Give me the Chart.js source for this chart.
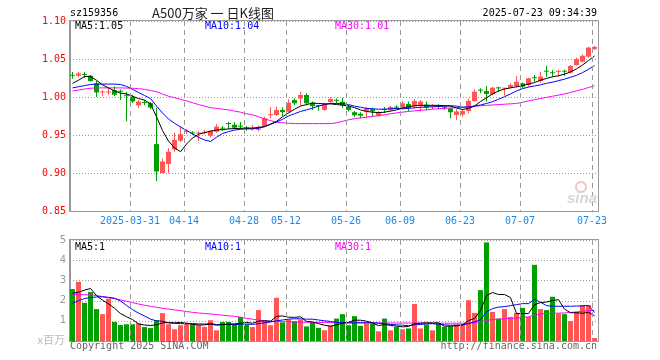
<!DOCTYPE html>
<html>
<head>
<meta charset="utf-8">
<script src="https://cdn.jsdelivr.net/npm/chart.js@4.4.1/dist/chart.umd.min.js"></script>
<style>
  html, body { margin: 0; padding: 0; background: #fff; }
  #wrap { position: relative; width: 660px; height: 360px; }
  #price { position: absolute; left: 0; top: 0; }
  #vol { position: absolute; left: 0; top: 230px; }
</style>
</head>
<body>
<div id="wrap">
  <canvas id="price" width="660" height="230"></canvas>
  <canvas id="vol" width="660" height="130"></canvas>
</div>
<script>
// trading days (2025)
const days = [
  '03-17', '03-18', '03-19', '03-20', '03-21', '03-24', '03-25', '03-26', '03-27', '03-28', '03-31',
  '04-01', '04-02', '04-03', '04-07', '04-08', '04-09', '04-10', '04-11', '04-14', '04-15', '04-16',
  '04-17', '04-18', '04-21', '04-22', '04-23', '04-24', '04-25', '04-28', '04-29', '04-30',
  '05-06', '05-07', '05-08', '05-09', '05-12', '05-13', '05-14', '05-15', '05-16', '05-19', '05-20',
  '05-21', '05-22', '05-23', '05-26', '05-27', '05-28', '05-29', '05-30',
  '06-03', '06-04', '06-05', '06-06', '06-09', '06-10', '06-11', '06-12', '06-13', '06-16', '06-17',
  '06-18', '06-19', '06-20', '06-23', '06-24', '06-25', '06-26', '06-27', '06-30',
  '07-01', '07-02', '07-03', '07-04', '07-07', '07-08', '07-09', '07-10', '07-11', '07-14', '07-15',
  '07-16', '07-17', '07-18', '07-21', '07-22', '07-23',
];
const tickDays = ['03-31', '04-14', '04-28', '05-12', '05-26', '06-09', '06-23', '07-07', '07-23'];
const tickLabels = ['2025-03-31', '04-14', '04-28', '05-12', '05-26', '06-09', '06-23', '07-07', '07-23'];

const open = [
  1.029, 1.028, 1.030, 1.028, 1.018, 1.006, 1.006, 1.009, 1.008, 1.002,
  1.000, 0.989, 0.993, 0.992, 0.938, 0.900, 0.912, 0.931, 0.9425, 0.954,
  0.953, 0.952, 0.953, 0.949, 0.9543, 0.959, 0.965, 0.9636, 0.9615, 0.9592,
  0.9585, 0.957, 0.962, 0.976, 0.9763, 0.983, 0.9806, 0.996, 0.998, 1.0026,
  0.9925, 0.9885, 0.983, 0.9934, 0.9955, 0.9938, 0.987, 0.980, 0.978, 0.981,
  0.984, 0.9754, 0.9835, 0.983, 0.9865, 0.986, 0.9908, 0.988, 0.988, 0.990,
  0.9875, 0.9875, 0.9865, 0.985, 0.9763, 0.977, 0.9816, 0.9947, 1.0088, 1.0079,
  1.0035, 1.0118, 1.011, 1.0122, 1.0145, 1.018, 1.0158, 1.025, 1.021, 1.0338,
  1.0317, 1.033, 1.0338, 1.032, 1.042, 1.0465, 1.053, 1.063,
];
const high = [
  1.033, 1.033, 1.033, 1.029, 1.021, 1.009, 1.012, 1.014, 1.010, 1.007,
  1.003, 0.996, 0.996, 0.993, 0.986, 0.919, 0.9325, 0.953, 0.962, 0.958,
  0.955, 0.955, 0.957, 0.9557, 0.964, 0.962, 0.9675, 0.967, 0.967, 0.962,
  0.963, 0.9625, 0.974, 0.9864, 0.9872, 0.9864, 0.997, 0.998, 1.007, 1.005,
  0.994, 0.989, 0.9925, 0.9996, 0.998, 0.999, 0.9895, 0.9816, 0.980, 0.987,
  0.986, 0.9816, 0.987, 0.9886, 0.989, 0.9947, 0.994, 0.9974, 0.996, 0.994,
  0.9908, 0.9905, 0.989, 0.986, 0.984, 0.984, 0.998, 1.010, 1.0114, 1.0145,
  1.0135, 1.0135, 1.012, 1.018, 1.0276, 1.019, 1.0254, 1.029, 1.0333, 1.041,
  1.0355, 1.036, 1.036, 1.042, 1.0517, 1.056, 1.066, 1.0675,
];
const low = [
  1.024, 1.026, 1.025, 1.020, 1.000, 1.001, 1.003, 1.001, 0.996, 0.968,
  0.992, 0.986, 0.989, 0.984, 0.889, 0.8996, 0.8996, 0.928, 0.9408, 0.951,
  0.950, 0.942, 0.951, 0.947, 0.953, 0.9557, 0.958, 0.9575, 0.9575, 0.9557,
  0.956, 0.955, 0.961, 0.972, 0.975, 0.975, 0.980, 0.989, 0.989, 0.989,
  0.983, 0.982, 0.982, 0.9917, 0.9917, 0.986, 0.981, 0.974, 0.972, 0.972,
  0.974, 0.974, 0.9786, 0.981, 0.984, 0.9842, 0.981, 0.985, 0.981, 0.983,
  0.9842, 0.984, 0.983, 0.972, 0.9697, 0.974, 0.979, 0.9938, 1.005, 0.9938,
  1.0026, 1.007, 1.0017, 1.0114, 1.0122, 1.0114, 1.0135, 1.020, 1.019, 1.0267,
  1.0267, 1.0267, 1.028, 1.031, 1.041, 1.0457, 1.0517, 1.062,
];
const close = [
  1.028, 1.031, 1.029, 1.021, 1.006, 1.007, 1.007, 1.003, 1.007, 1.001,
  0.994, 0.994, 0.992, 0.986, 0.902, 0.915, 0.928, 0.9434, 0.951, 0.9555,
  0.952, 0.953, 0.954, 0.9557, 0.961, 0.9583, 0.9645, 0.9596, 0.961, 0.9588,
  0.959, 0.9575, 0.972, 0.9765, 0.9829, 0.980, 0.9925, 0.9917, 1.0026, 0.9917,
  0.988, 0.988, 0.9908, 0.9974, 0.995, 0.9886, 0.983, 0.976, 0.9754, 0.985,
  0.981, 0.980, 0.983, 0.987, 0.986, 0.9917, 0.986, 0.9947, 0.994, 0.986,
  0.988, 0.987, 0.986, 0.980, 0.981, 0.9816, 0.995, 1.007, 1.0083, 1.004,
  1.0122, 1.0114, 1.0116, 1.0158, 1.020, 1.0135, 1.0246, 1.0246, 1.0268, 1.0333,
  1.0312, 1.0335, 1.0333, 1.0408, 1.050, 1.0543, 1.065, 1.066,
];

const ma5 = [
  1.018, 1.022, 1.027, 1.027, 1.022, 1.016, 1.012, 1.008, 1.005, 1.004,
  1.001, 0.998, 0.996, 0.991, 0.974, 0.956, 0.942, 0.933, 0.928, 0.938,
  0.946, 0.951, 0.953, 0.955, 0.9566, 0.957, 0.958, 0.9585, 0.9588, 0.959,
  0.959, 0.960, 0.961, 0.964, 0.968, 0.974, 0.979, 0.984, 0.988, 0.990,
  0.992, 0.9915, 0.991, 0.991, 0.990, 0.9895, 0.988, 0.986, 0.983, 0.981,
  0.980, 0.9795, 0.980, 0.9815, 0.983, 0.9855, 0.987, 0.9885, 0.989, 0.989,
  0.989, 0.989, 0.9885, 0.988, 0.9855, 0.9835, 0.985, 0.988, 0.994, 0.999,
  1.004, 1.008, 1.0105, 1.012, 1.0135, 1.015, 1.017, 1.019, 1.022, 1.0245,
  1.0265, 1.028, 1.030, 1.033, 1.037, 1.042, 1.048, 1.054,
];
const ma10 = [
  1.012, 1.0135, 1.015, 1.0165, 1.017, 1.017, 1.017, 1.017, 1.0165, 1.014,
  1.010, 1.006, 1.002, 0.998, 0.988, 0.979, 0.971, 0.9655, 0.9605, 0.956,
  0.9515, 0.947, 0.9435, 0.9415, 0.947, 0.952, 0.9544, 0.9565, 0.9575, 0.958,
  0.958, 0.9588, 0.961, 0.9645, 0.967, 0.9707, 0.975, 0.978, 0.981, 0.983,
  0.9855, 0.988, 0.990, 0.9915, 0.9915, 0.9915, 0.990, 0.988, 0.9865, 0.985,
  0.9845, 0.984, 0.984, 0.9845, 0.985, 0.9845, 0.985, 0.9858, 0.9865, 0.9868,
  0.987, 0.9875, 0.988, 0.9885, 0.988, 0.9865, 0.987, 0.988, 0.9895, 0.9915,
  0.9938, 0.997, 1.0004, 1.004, 1.008, 1.011, 1.013, 1.0145, 1.016, 1.018,
  1.0195, 1.0215, 1.0235, 1.026, 1.0285, 1.032, 1.0365, 1.0415,
];
const ma30 = [
  1.008, 1.009, 1.0105, 1.0115, 1.012, 1.012, 1.012, 1.012, 1.012, 1.0118,
  1.0115, 1.011, 1.010, 1.0085, 1.007, 1.004, 1.001, 0.999, 0.997, 0.995,
  0.9925, 0.990, 0.988, 0.986, 0.985, 0.984, 0.983, 0.9815, 0.980, 0.978,
  0.9765, 0.974, 0.971, 0.969, 0.967, 0.966, 0.9655, 0.965, 0.965, 0.965,
  0.965, 0.965, 0.965, 0.965, 0.966, 0.968, 0.970, 0.9715, 0.9725, 0.9735,
  0.9745, 0.9755, 0.9765, 0.978, 0.979, 0.980, 0.981, 0.9818, 0.9825, 0.983,
  0.984, 0.9845, 0.985, 0.9855, 0.986, 0.9865, 0.987, 0.988, 0.9885, 0.989,
  0.9895, 0.990, 0.9905, 0.991, 0.9915, 0.993, 0.995, 0.9965, 0.998, 0.9995,
  1.001, 1.0025, 1.004, 1.006, 1.008, 1.010, 1.0125, 1.0145,
];

// volume, millions
const volume = [
  2.57, 2.93, 1.89, 2.42, 1.58, 1.33, 2.09, 0.94, 0.79, 0.83,
  0.83, 0.88, 0.69, 0.64, 1.03, 1.38, 0.83, 0.58, 0.78, 0.90,
  0.83, 0.78, 0.70, 1.03, 0.53, 0.94, 0.94, 0.82, 1.19, 0.83,
  0.69, 1.53, 1.03, 0.78, 2.14, 0.92, 1.06, 0.98, 1.06, 0.72,
  0.90, 0.65, 0.53, 0.77, 1.11, 1.33, 0.78, 1.23, 0.75, 0.87,
  0.87, 0.48, 1.11, 0.53, 0.70, 0.58, 0.62, 1.83, 0.62, 0.82,
  0.53, 0.87, 0.70, 0.73, 0.82, 0.82, 2.02, 1.39, 2.52, 4.88,
  1.44, 1.11, 1.58, 1.19, 1.39, 1.64, 1.19, 3.77, 1.58, 1.53,
  2.19, 1.36, 1.33, 0.99, 1.44, 1.78, 1.78, 0.15,
];
const vma5 = [
  2.37, 2.41, 2.52, 2.6, 2.25, 2.02, 1.84, 1.62, 1.36, 1.2,
  1.06, 0.85, 0.79, 0.77, 0.8, 0.9, 0.91, 0.9, 0.92, 0.88,
  0.83, 0.79, 0.8, 0.84, 0.78, 0.81, 0.83, 0.85, 0.88, 0.92,
  0.88, 0.98, 1.0, 0.98, 1.22, 1.24, 1.18, 1.17, 1.2, 0.97,
  0.94, 0.86, 0.78, 0.73, 0.8, 0.88, 0.92, 1.03, 1.03, 0.98,
  0.9, 0.76, 0.82, 0.77, 0.74, 0.7, 0.72, 0.86, 0.88, 0.9,
  0.89, 0.9, 0.73, 0.74, 0.75, 0.79, 1.01, 1.12, 1.5, 2.25,
  2.4, 2.3, 2.3, 2.15, 1.36, 1.36, 1.36, 1.8, 1.9, 1.93,
  2.0, 2.05, 1.58, 1.4, 1.4, 1.37, 1.42, 1.25,
];
const vma10 = [
  1.86, 2.0, 2.1, 2.15, 2.18, 2.19, 2.16, 2.12, 1.98, 1.76,
  1.56, 1.38, 1.24, 1.08, 1.0, 0.98, 0.9, 0.87, 0.86, 0.86,
  0.86, 0.85, 0.84, 0.86, 0.82, 0.82, 0.82, 0.81, 0.83, 0.84,
  0.82, 0.86, 0.9, 0.94, 1.0, 1.04, 1.08, 1.1, 1.1, 1.08,
  1.08, 1.04, 1.0, 0.97, 0.92, 0.9, 0.9, 0.9, 0.9, 0.9,
  0.9, 0.88, 0.86, 0.82, 0.8, 0.78, 0.76, 0.8, 0.82, 0.85,
  0.86, 0.83, 0.8, 0.78, 0.78, 0.8, 0.86, 0.95, 1.05, 1.45,
  1.6, 1.68, 1.7, 1.75, 1.8, 1.85, 1.85, 2.06, 1.92, 1.75,
  1.72, 1.72, 1.72, 1.72, 1.73, 1.74, 1.76, 1.41,
];
const vma30 = [
  2.3, 2.3, 2.29, 2.28, 2.25, 2.2, 2.14, 2.1, 2.03, 1.97,
  1.9, 1.83, 1.77, 1.72, 1.67, 1.62, 1.58, 1.54, 1.5, 1.46,
  1.42, 1.39, 1.36, 1.34, 1.31, 1.28, 1.25, 1.22, 1.18, 1.12,
  1.08, 1.03, 1.0, 0.98, 0.97, 0.96, 0.95, 0.94, 0.93, 0.93,
  0.92, 0.92, 0.92, 0.92, 0.91, 0.91, 0.9, 0.9, 0.9, 0.9,
  0.9, 0.9, 0.89, 0.89, 0.89, 0.89, 0.89, 0.89, 0.89, 0.89,
  0.89, 0.88, 0.88, 0.88, 0.88, 0.88, 0.88, 0.9, 0.96, 1.02,
  1.06, 1.08, 1.1, 1.12, 1.14, 1.16, 1.2, 1.28, 1.33, 1.36,
  1.37, 1.38, 1.39, 1.41, 1.44, 1.47, 1.5, 1.52,
];

const priceTicks = [0.85, 0.90, 0.95, 1.00, 1.05, 1.10];
const volTicks = [0, 1, 2, 3, 4, 5];

const UP = '#ff5555';
const DOWN = '#00a000';
const C5 = '#000000', C10 = '#0000ff', C30 = '#ff00ff';
const GRID = '#999999';
const MONO = "'DejaVu Sans Mono', monospace";
const CJK = "'Noto Sans CJK SC', sans-serif";

const candleColors = close.map((c, i) => (c >= open[i] ? UP : DOWN));
const xy = arr => arr.map((v, i) => ({ x: i, y: v }));
const cut = (v, d) => Math.floor(v * Math.pow(10, d) + 1e-9) / Math.pow(10, d);
const dateValue = d => days.indexOf(d) - 0.5 + 1 / 12;

// shared date axis, candles sit on half pixels so 1px wicks stay sharp
function dateAxis(showLabels) {
  return {
    type: 'linear',
    offset: false,
    min: -0.5 + 1 / 12,
    max: days.length - 0.5 + 1 / 12,
    afterBuildTicks: s => { s.ticks = tickDays.map(d => ({ value: dateValue(d) })); },
    afterFit: s => { s.height = 19; },
    grid: { display: false, drawTicks: false },
    border: { display: true, color: '#999' },
    ticks: {
      display: showLabels, autoSkip: false, maxRotation: 0, padding: 4,
      color: '#1e88e5', font: { family: MONO, size: 10 },
      callback: (v, i) => tickLabels[i],
    },
  };
}

function valueAxis(min, max, ticks, color, family, fmt) {
  return {
    min, max,
    afterBuildTicks: s => { s.ticks = ticks.map(v => ({ value: v })); },
    afterFit: s => { s.width = 70; },
    grid: { display: false, drawTicks: false },
    border: { display: true, color: '#999' },
    ticks: { color, padding: 4, autoSkip: false, font: { family, size: 10 }, callback: fmt },
  };
}

function maLine(data, color) {
  return { type: 'line', data: xy(data), borderColor: color, borderWidth: 1, pointRadius: 0, tension: 0, order: 0 };
}

function text(ctx, str, x, y, color, font, align) {
  ctx.fillStyle = color;
  ctx.font = font;
  ctx.textAlign = align || 'left';
  ctx.textBaseline = 'middle';
  ctx.fillText(str, x, y);
}

// dotted value lines behind the marks; dashed date lines, then the box, on top
function sinaGrid(valueTicks) {
  return {
    id: 'sinaGrid',
    beforeDraw(chart) {
      const { ctx, chartArea: a, scales } = chart;
      const left = Math.round(a.left), right = Math.round(a.right);
      ctx.save();
      ctx.fillStyle = GRID;
      valueTicks.forEach(v => {
        const py = Math.round(scales.y.getPixelForValue(v));
        for (let xx = left; xx < right; xx += 3) ctx.fillRect(xx, py, 1, 1);
      });
      ctx.restore();
    },
    afterDraw(chart) {
      const { ctx, chartArea: a, scales } = chart;
      const top = Math.round(a.top), bottom = Math.round(a.bottom);
      ctx.save();
      ctx.globalCompositeOperation = 'source-over';
      ctx.globalAlpha = 1;
      ctx.strokeStyle = GRID;
      ctx.lineWidth = 1;
      ctx.setLineDash([]);
      tickDays.forEach(d => {
        const px = Math.round(scales.x.getPixelForValue(dateValue(d))) + 0.5;
        ctx.beginPath();
        for (let yy = top; yy < bottom; yy += 9) {
          ctx.moveTo(px, yy);
          ctx.lineTo(px, Math.min(yy + 5, bottom));
        }
        ctx.stroke();
      });
      ctx.strokeStyle = '#999';
      ctx.strokeRect(Math.round(a.left) - 0.5, Math.round(a.top) - 0.5, Math.round(a.right - a.left) + 1, Math.round(a.bottom - a.top) + 1);
      ctx.restore();
    },
  };
}

const priceTexts = {
  id: 'priceTexts',
  afterDraw(chart) {
    const { ctx, chartArea: a } = chart;
    const last = days.length - 1;
    ctx.save();
    text(ctx, 'sz159356', a.left, 13, '#000', '10px ' + MONO);
    text(ctx, 'A500万家 一 日K线图', 213, 13, '#222', '13px ' + CJK, 'center');
    text(ctx, '2025-07-23 09:34:39', a.right - 1, 13, '#000', '10px ' + MONO, 'right');
    text(ctx, 'MA5:' + cut(ma5[last], 2).toFixed(2), a.left + 5, a.top + 5, C5, '10px ' + MONO);
    text(ctx, 'MA10:' + cut(ma10[last], 2).toFixed(2), a.left + 135, a.top + 5, C10, '10px ' + MONO);
    text(ctx, 'MA30:' + cut(ma30[last], 2).toFixed(2), a.left + 265, a.top + 5, C30, '10px ' + MONO);
    // sina watermark
    ctx.strokeStyle = '#f4c4c4';
    ctx.lineWidth = 2;
    ctx.beginPath();
    ctx.arc(a.right - 17, a.bottom - 24, 5, 0, Math.PI * 2);
    ctx.stroke();
    text(ctx, 'sina', a.right - 31, a.bottom - 12, '#d6d6d6', 'italic bold 15px Arial, sans-serif');
    ctx.restore();
  },
};

const volTexts = {
  id: 'volTexts',
  afterDraw(chart) {
    const { ctx, chartArea: a } = chart;
    const last = days.length - 1;
    ctx.save();
    text(ctx, 'MA5:' + Math.floor(vma5[last]), a.left + 5, a.top + 7, C5, '10px ' + MONO);
    text(ctx, 'MA10:' + Math.floor(vma10[last]), a.left + 135, a.top + 7, C10, '10px ' + MONO);
    text(ctx, 'MA30:' + Math.floor(vma30[last]), a.left + 265, a.top + 7, C30, '10px ' + MONO);
    text(ctx, 'x百万', a.left - 5, a.bottom - 1, '#bbb', '11px ' + CJK, 'right');
    text(ctx, 'Copyright 2025 SINA.COM', a.left, a.bottom + 5, '#666', '10px ' + MONO);
    text(ctx, 'http://finance.sina.com.cn', a.right - 1, a.bottom + 5, '#666', '10px ' + MONO, 'right');
    ctx.restore();
  },
};

const common = {
  responsive: false,
  animation: false,
  events: [],
  plugins: { legend: { display: false }, tooltip: { enabled: false } },
};

new Chart(document.getElementById('price'), {
  type: 'bar',
  data: {
    datasets: [
      maLine(ma5, C5),
      maLine(ma10, C10),
      maLine(ma30, C30),
      {
        data: days.map((d, i) => ({ x: i, y: [open[i], close[i]] })),
        backgroundColor: candleColors, barThickness: 5, minBarLength: 1,
        grouped: false, inflateAmount: 0, order: 1,
      },
      {
        data: days.map((d, i) => ({ x: i, y: [low[i], high[i]] })),
        backgroundColor: candleColors, barThickness: 1,
        grouped: false, inflateAmount: 0, order: 2,
      },
    ],
  },
  options: {
    ...common,
    layout: { padding: { top: 21, right: 62, left: 0, bottom: 0 } },
    scales: {
      x: dateAxis(true),
      y: valueAxis(0.85, 1.10, priceTicks, '#ff0000', MONO, v => v.toFixed(2)),
    },
  },
  plugins: [sinaGrid(priceTicks), priceTexts],
});

new Chart(document.getElementById('vol'), {
  type: 'bar',
  data: {
    datasets: [
      maLine(vma5, C5),
      maLine(vma10, C10),
      maLine(vma30, C30),
      {
        data: xy(volume), backgroundColor: candleColors, barThickness: 5,
        grouped: false, inflateAmount: 0, order: 1,
      },
    ],
  },
  options: {
    ...common,
    layout: { padding: { top: 10, right: 62, left: 0, bottom: 0 } },
    scales: {
      x: dateAxis(false),
      y: valueAxis(0, 5, volTicks, '#999', "'DejaVu Sans', sans-serif", v => (v === 0 ? '' : String(v))),
    },
  },
  plugins: [sinaGrid(volTicks), volTexts],
});
</script>
</body>
</html>
